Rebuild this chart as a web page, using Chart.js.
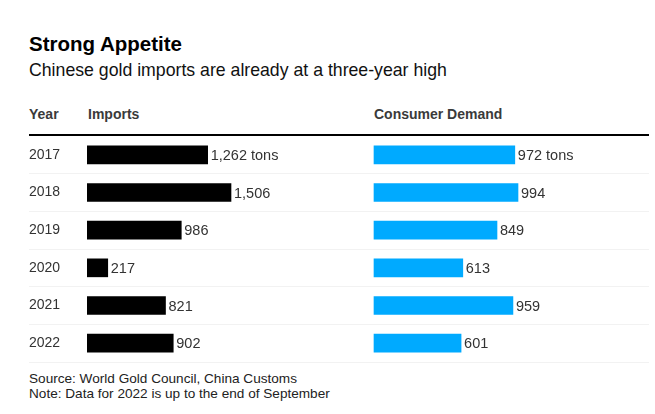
<!DOCTYPE html>
<html>
<head>
<meta charset="utf-8">
<script src="https://cdn.jsdelivr.net/npm/chart.js@4"></script>
<style>
  body { margin: 0; background: #fff; font-family: "Liberation Sans", Arial, sans-serif; }
  #wrap { position: relative; width: 655px; height: 414px; overflow: hidden; }
  .t { position: absolute; white-space: nowrap; }
  #title { left: 29px; top: 32px; font-size: 20.5px; line-height: 24px; font-weight: bold; color: #000; }
  #subtitle { left: 29px; top: 60px; font-size: 17.7px; line-height: 20px; color: #111; }
  .head { top: 106px; font-size: 14px; line-height: 16px; font-weight: bold; color: #3a3a3a; }
  #rule { position: absolute; left: 29px; top: 134px; width: 620px; height: 2px; background: #000; }
  #notes { left: 29px; top: 371px; font-size: 13.6px; line-height: 15px; color: #222; }
  #chartBox { position: absolute; left: 29px; top: 136px; width: 620px; height: 228px; }
</style>
</head>
<body>
<div id="wrap">
  <div class="t" id="title">Strong Appetite</div>
  <div class="t" id="subtitle">Chinese gold imports are already at a three-year high</div>
  <div class="t head" style="left:29px">Year</div>
  <div class="t head" style="left:88px">Imports</div>
  <div class="t head" style="left:374px">Consumer Demand</div>
  <div id="rule"></div>
  <div id="chartBox"><canvas id="chart"></canvas></div>
  <div class="t" id="notes">Source: World Gold Council, China Customs<br>Note: Data for 2022 is up to the end of September</div>
</div>
<script>
const years = ["2017", "2018", "2019", "2020", "2021", "2022"];
const imports = [1262, 1506, 986, 217, 821, 902];
const consumerDemand = [972, 994, 849, 613, 959, 601];

// layout: plot area is 562px wide, the longest bar in each column is 144px,
// demand column starts 287px into the plot area
const plotWidth = 562;
const longestBar = 144;
const demandOffset = 287;

const importsPerPx = Math.max(...imports) / longestBar;
const demandPerPx = Math.max(...consumerDemand) / longestBar;

const valueLabels = {
    id: "valueLabels",
    afterDatasetsDraw(chart) {
        const ctx = chart.ctx;
        ctx.save();
        ctx.font = "14.5px 'Liberation Sans', Arial, sans-serif";
        ctx.fillStyle = "#333";
        ctx.textBaseline = "middle";
        ctx.textAlign = "left";
        chart.data.datasets.forEach((ds, di) => {
            chart.getDatasetMeta(di).data.forEach((bar, i) => {
                let txt = ds.data[i].toLocaleString("en-US");
                if (i === 0) txt += " tons";
                ctx.fillText(txt, bar.x + 3, bar.y + 1);
            });
        });
        ctx.restore();
    }
};

new Chart(document.getElementById("chart"), {
    type: "bar",
    data: {
        labels: years,
        datasets: [
            {
                label: "Imports",
                data: imports,
                xAxisID: "xImports",
                backgroundColor: "#000000",
                barThickness: 18,
                grouped: false
            },
            {
                label: "Consumer Demand",
                data: consumerDemand,
                xAxisID: "xDemand",
                backgroundColor: "#00aaff",
                barThickness: 18,
                grouped: false
            }
        ]
    },
    options: {
        indexAxis: "y",
        responsive: true,
        maintainAspectRatio: false,
        animation: false,
        layout: { padding: { top: 0, bottom: 2, left: 0, right: 0 } },
        plugins: { legend: { display: false }, tooltip: { enabled: false } },
        scales: {
            xImports: {
                type: "linear",
                position: "bottom",
                display: false,
                min: 0,
                max: plotWidth * importsPerPx
            },
            xDemand: {
                type: "linear",
                position: "bottom",
                display: false,
                min: -demandOffset * demandPerPx,
                max: (plotWidth - demandOffset) * demandPerPx
            },
            y: {
                type: "category",
                position: "left",
                offset: true,
                border: { display: false },
                grid: {
                    offset: true,
                    drawOnChartArea: true,
                    tickLength: 58,
                    lineWidth: 1,
                    color: (c) => (c.index === 0 ? "rgba(0,0,0,0)" : "#f2f2f2")
                },
                ticks: {
                    crossAlign: "far",
                    padding: 0,
                    color: "#333",
                    font: { family: "'Liberation Sans', Arial, sans-serif", size: 14 }
                },
                afterFit(scale) {
                    scale.width = 58;
                    scale.paddingTop = 0;
                    scale.paddingBottom = 0;
                }
            }
        }
    },
    plugins: [valueLabels]
});
</script>
</body>
</html>
